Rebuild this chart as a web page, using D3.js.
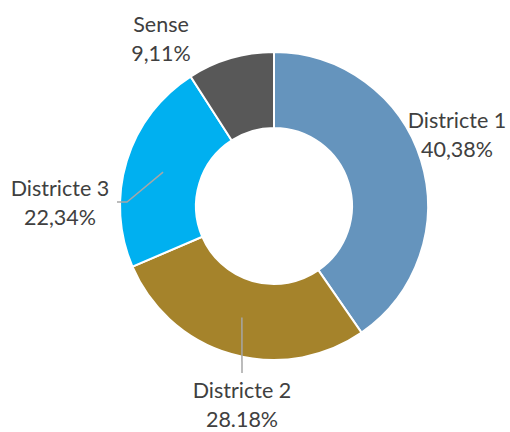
<!DOCTYPE html>
<html lang="ca">
<head>
<meta charset="utf-8">
<title>Donut</title>
<script src="https://cdn.jsdelivr.net/npm/d3@7"></script>
<style>
  body { margin: 0; background: #fff; }
  text { font-family: Lato, "Open Sans", sans-serif; font-size: 21.5px; fill: #404040; }
</style>
</head>
<body>
<script>
// data
var categories = ["Districte 1", "Districte 2", "Districte 3", "Sense"];
var values = [40.38, 28.18, 22.34, 9.11];
var valueLabels = ["40,38%", "28.18%", "22,34%", "9,11%"];
var colors = ["#6594bd", "#a5832b", "#00b0f0", "#585858"];

var w = 510, h = 432;
var cx = 274, cy = 206;
var outerR = 154, innerR = 78;

// label placement relative to the centre (dx, dy of the text block centre)
var labelOffset = [[183, -70], [-32, 200], [-214, -2], [-113, -166]];
var hasLeader = [false, true, true, false];

var svg = d3.select("body").append("svg")
    .attr("width", w)
    .attr("height", h);

var g = svg.append("g").attr("transform", "translate(" + cx + "," + cy + ")");

var pie = d3.pie().sort(null).value(function(d) { return d; });
var arcs = pie(values);

var arc = d3.arc().innerRadius(innerR).outerRadius(outerR);

g.selectAll("path.slice")
    .data(arcs)
    .enter()
    .append("path")
    .attr("class", "slice")
    .attr("d", arc)
    .attr("fill", function(d, i) { return colors[i]; })
    .attr("stroke", "#fff")
    .attr("stroke-width", 2);

// leader lines from the slice centroid to the label
g.selectAll("polyline.leader")
    .data(arcs.filter(function(d, i) { return hasLeader[i]; }))
    .enter()
    .append("polyline")
    .attr("class", "leader")
    .attr("fill", "none")
    .attr("stroke", "#a6a6a6")
    .attr("stroke-width", 1.5)
    .attr("points", function(d) {
        var c = arc.centroid(d);
        var o = labelOffset[d.index];
        if (d.index === 1) {
            return [c, [o[0], o[1] - 33]].join(" ");
        }
        // label on the left: angled line then a short horizontal tick
        return [c, [o[0] + 67, o[1] - 2], [o[0] + 57, o[1] - 2]].join(" ");
    });

var labels = g.selectAll("text.lbl")
    .data(arcs)
    .enter()
    .append("text")
    .attr("class", "lbl")
    .attr("text-anchor", "middle")
    .attr("transform", function(d) {
        var o = labelOffset[d.index];
        return "translate(" + o[0] + "," + o[1] + ")";
    });

labels.append("tspan")
    .attr("x", 0)
    .attr("dy", -8)
    .text(function(d) { return categories[d.index]; });

labels.append("tspan")
    .attr("x", 0)
    .attr("dy", 29)
    .text(function(d) { return valueLabels[d.index]; });
</script>
</body>
</html>
